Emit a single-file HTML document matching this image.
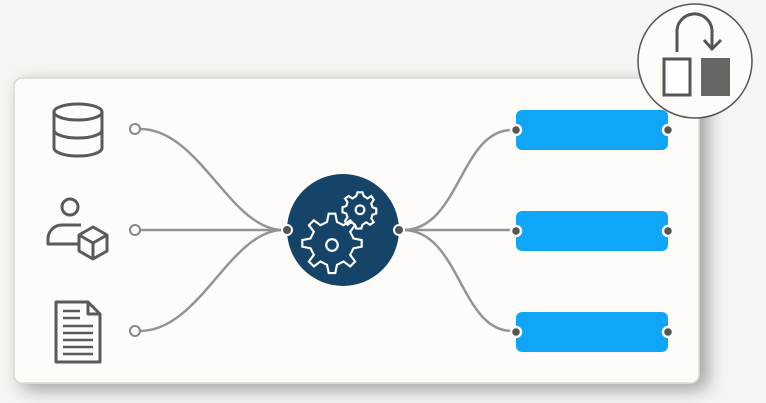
<!DOCTYPE html>
<html><head><style>
html,body{margin:0;padding:0;background:#f6f5f1;width:766px;height:403px;overflow:hidden}
</style></head><body>
<svg width="766" height="403" viewBox="0 0 766 403" xmlns="http://www.w3.org/2000/svg">
<defs>
<filter id="sh" x="-10%" y="-10%" width="130%" height="130%"><feDropShadow dx="8" dy="6" stdDeviation="9" flood-color="#000" flood-opacity="0.35"/></filter>
</defs>
<rect x="14" y="78" width="685" height="305" rx="8" fill="#fdfcf8" stroke="#d8d6d0" stroke-width="1.5" filter="url(#sh)"/>
<g fill="none" stroke="#949494" stroke-width="2.5">
<path d="M140 129 C200 129 230 230 283 230"/>
<path d="M140 230 L283 230"/>
<path d="M140 331 C200 331 230 230 283 230"/>
<path d="M403 230 C460 230 460 130 512 130"/>
<path d="M403 230 L512 230"/>
<path d="M403 230 C460 230 460 331 512 331"/>
</g>
<g fill="#fdfcf8" stroke="#888" stroke-width="2">
<circle cx="135" cy="129" r="5"/><circle cx="135" cy="230" r="5"/><circle cx="135" cy="331" r="5"/>
</g>
<circle cx="343" cy="230" r="56" fill="#164468"/>
<g fill="none" stroke="#fff" stroke-width="2.2">
<g transform="translate(332,245) scale(1.65) translate(-332,-245)">
<circle cx="332" cy="245" r="3.5" stroke-width="1.3"/>
<path d="M332 226 l4 0 1 5 4 2 4-3 3 3-3 4 2 4 5 1 0 4-5 1-2 4 3 4-3 3-4-3-4 2-1 5-4 0-1-5-4-2-4 3-3-3 3-4-2-4-5-1 0-4 5-1 2-4-3-4 3-3 4 3 4-2z" transform="translate(-2,0)" stroke-width="1.3"/>
</g>
<g transform="translate(360,211) scale(1.25) translate(-359,-211)">
<circle cx="359" cy="210" r="3.5" stroke-width="1.7"/>
<path d="M357 196 l4 0 1 3 3 2 3-2 2 3-2 3 1 3 3 1 0 4-3 1-1 3 2 3-3 2-3-2-3 2-1 3-4 0-1-3-3-2-3 2-2-3 2-3-1-3-3-1 0-4 3-1 1-3-2-3 3-2 3 2 3-2z" stroke-width="1.7"/>
</g>
</g>
<circle cx="287" cy="230" r="5" fill="#555" stroke="#fdfcf8" stroke-width="2"/>
<circle cx="399" cy="230" r="5" fill="#555" stroke="#fdfcf8" stroke-width="2"/>
<g fill="#10a6f7">
<rect x="516" y="110" width="152" height="40" rx="6"/>
<rect x="516" y="211" width="152" height="40" rx="6"/>
<rect x="516" y="312" width="152" height="40" rx="6"/>
</g>
<g fill="#555" stroke="#fdfcf8" stroke-width="2.5">
<circle cx="516" cy="130" r="5"/><circle cx="668" cy="130" r="5"/>
<circle cx="516" cy="231" r="5"/><circle cx="668" cy="231" r="5"/>
<circle cx="516" cy="332" r="5"/><circle cx="668" cy="332" r="5"/>
</g>
<g fill="none" stroke="#5a5a5a" stroke-width="3" stroke-linejoin="round">
<ellipse cx="78" cy="112" rx="24" ry="8"/>
<path d="M54 112 V148 A24 8 0 0 0 102 148 V112"/>
<path d="M54 130 A24 8 0 0 0 102 130"/>
<circle cx="70" cy="207" r="8"/>
<path d="M81 225 H62 A14 14 0 0 0 48 239 V244 H78"/>
<path d="M93 227 L107 235 V251 L93 259 L79 251 V235 Z M79 235 L93 243 L107 235 M93 243 V259"/>
<path d="M56 302 H88 L100 314 V362 H56 Z M88 302 V314 H100"/>
<path d="M63 311 H80 M63 318 H80 M63 326 H93 M63 333 H93 M63 340 H93 M63 347 H93 M63 354 H93" stroke-width="2.5"/>
</g>
<circle cx="695" cy="61" r="57" fill="#fdfcf8" stroke="#555" stroke-width="1.5"/>
<rect x="664" y="59" width="26" height="36" fill="#fff" stroke="#555" stroke-width="3"/>
<rect x="701" y="58" width="29" height="38" fill="#666"/>
<path d="M677 52 V33 A15 15 0 0 1 712 30 V48" fill="none" stroke="#555" stroke-width="3"/>
<path d="M704 40 L712 49 L721 40" fill="none" stroke="#555" stroke-width="3"/>
</svg>
</body></html>
